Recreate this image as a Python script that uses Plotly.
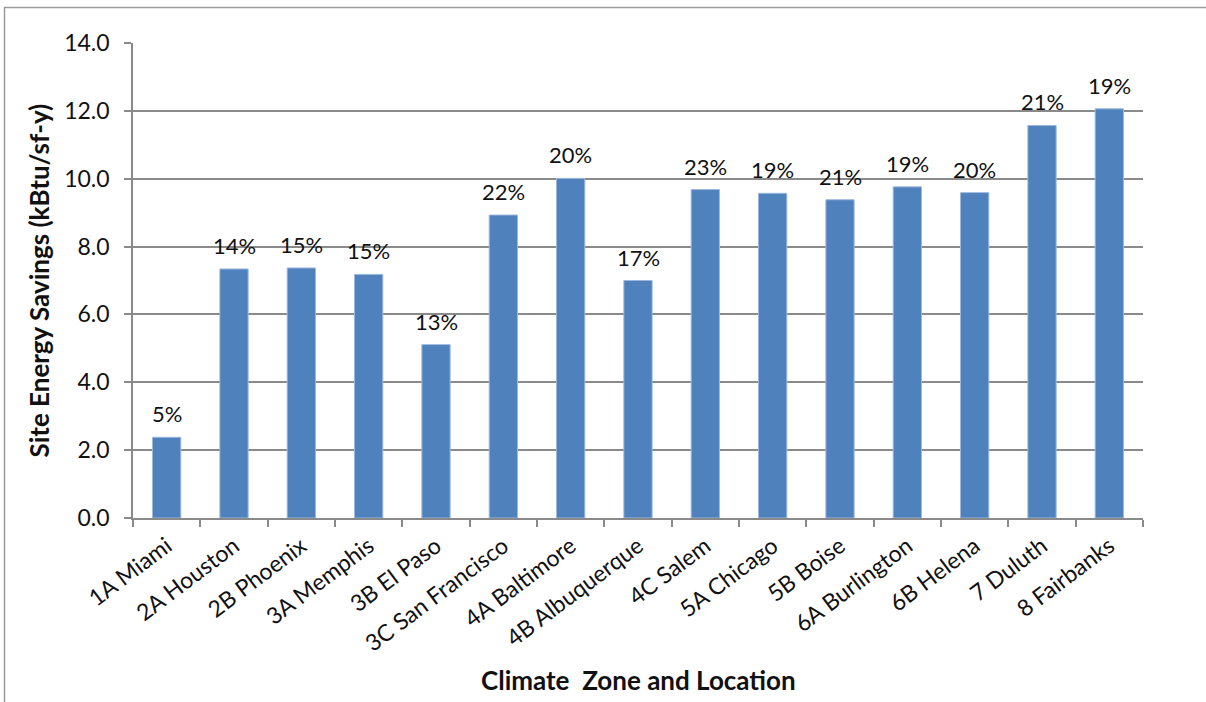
import plotly.graph_objects as go

# Climate zones / representative cities
locations = [
    "1A Miami", "2A Houston", "2B Phoenix", "3A Memphis", "3B El Paso",
    "3C San Francisco", "4A Baltimore", "4B Albuquerque", "4C Salem",
    "5A Chicago", "5B Boise", "6A Burlington", "6B Helena", "7 Duluth",
    "8 Fairbanks",
]
# Site energy savings (kBtu/sf-y)
savings = [2.38, 7.34, 7.37, 7.18, 5.11, 8.93, 10.01, 7.00, 9.68,
           9.57, 9.38, 9.76, 9.59, 11.57, 12.06]
# Percent savings shown above each bar
pct_labels = ["5%", "14%", "15%", "15%", "13%", "22%", "20%", "17%", "23%",
              "19%", "21%", "19%", "20%", "21%", "19%"]

W, H = 1206, 702
L, R, T, B = 133, 63, 43, 184
plot_w = W - L - R
plot_h = H - T - B

font_family = "Lato, 'Open Sans', sans-serif"
grid_col = "#8a8a8a"
text_col = "#111111"

fig = go.Figure(
    go.Bar(
        x=locations,
        y=savings,
        marker=dict(color="#4F81BD", line=dict(color="#9DB8DC", width=1)),
        hoverinfo="x+y",
    )
)

# Percentage labels sitting above each bar
for loc, val, lab in zip(locations, savings, pct_labels):
    fig.add_annotation(
        x=loc, y=val, text=lab, showarrow=False,
        xanchor="center", yanchor="bottom", yshift=8,
        font=dict(family=font_family, size=22, color=text_col),
    )

# Outer chart frame (only the top and left edges fall inside the canvas)
fig.add_shape(
    type="rect", xref="paper", yref="paper",
    x0=(4.5 - L) / plot_w, x1=(W + 60 - L) / plot_w,
    y0=-1.0, y1=(H - B - 7.5) / plot_h,
    line=dict(color="#9a9a9a", width=1.5),
    fillcolor="rgba(0,0,0,0)", layer="below",
)

# Axis titles placed at fixed positions in the margins
fig.add_annotation(
    text="<b>Climate  Zone and Location</b>",
    xref="paper", yref="paper",
    x=(638 - L) / plot_w, y=-(680 - (H - B)) / plot_h,
    xanchor="center", yanchor="middle", showarrow=False,
    font=dict(family=font_family, size=26, color=text_col),
)
fig.add_annotation(
    text="<b>Site Energy Savings (kBtu/sf-y)</b>",
    xref="paper", yref="paper",
    x=-(L - 38) / plot_w, y=0.5, textangle=-90,
    xanchor="center", yanchor="middle", showarrow=False,
    font=dict(family=font_family, size=26, color=text_col),
)

fig.update_layout(
    width=W, height=H,
    margin=dict(l=L, r=R, t=T, b=B),
    paper_bgcolor="white", plot_bgcolor="white",
    bargap=0.58,
    showlegend=False,
    font=dict(family=font_family, color=text_col),
    xaxis=dict(
        type="category",
        tickangle=-37,
        tickfont=dict(size=23, color=text_col),
        showline=True, linecolor=grid_col, linewidth=1.5,
        ticks="outside", ticklen=7, tickcolor=grid_col, tickwidth=1.5,
        tickson="boundaries",
        ticklabelstandoff=4,
        showgrid=False,
    ),
    yaxis=dict(
        range=[0, 14], dtick=2, tickformat=".1f",
        tickfont=dict(size=23, color=text_col),
        showline=True, linecolor=grid_col, linewidth=1.5,
        ticks="outside", ticklen=7, tickcolor=grid_col, tickwidth=1.5,
        ticklabelstandoff=10,
        showgrid=True, gridcolor=grid_col, gridwidth=1.5,
        zeroline=False,
    ),
)

fig.write_html("out.html", config={"displayModeBar": False})
